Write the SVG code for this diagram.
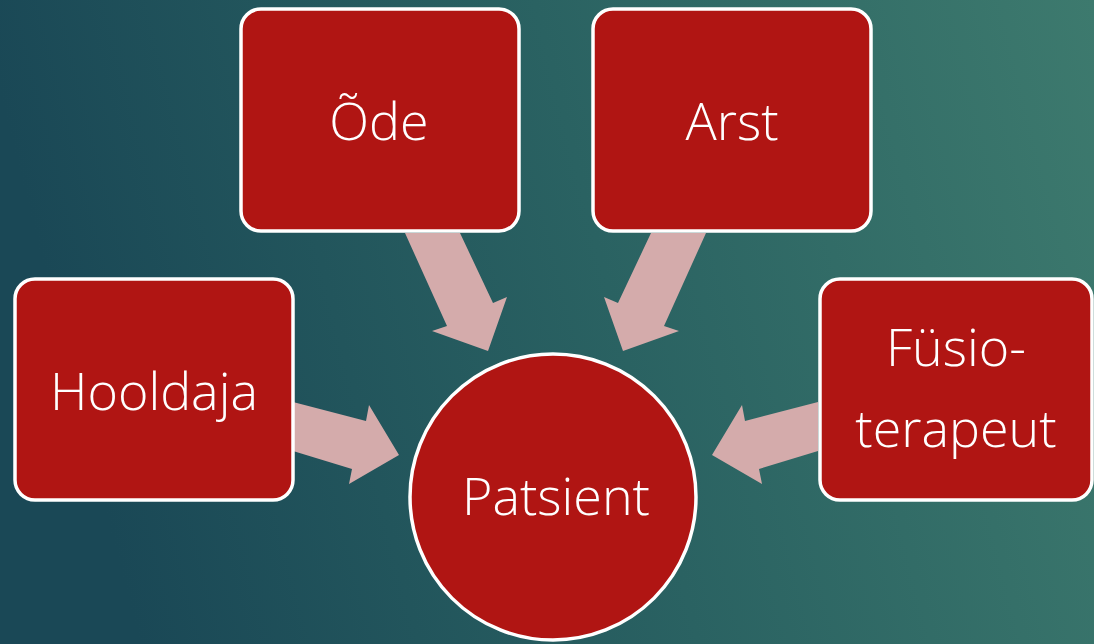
<svg xmlns="http://www.w3.org/2000/svg" width="1094" height="644" viewBox="0 0 1094 644">
<defs>
<linearGradient id="bg" x1="0" y1="0.15" x2="1" y2="0">
<stop offset="0" stop-color="#1a4856"/>
<stop offset="0.5" stop-color="#2a6262"/>
<stop offset="1" stop-color="#3d7a6e"/>
</linearGradient>
<style>
.box{fill:#b01513;stroke:#ffffff;stroke-width:3.5}
.arr{fill:#d4abab}
.t{fill:#ffffff;font-family:"Open Sans","DejaVu Sans",sans-serif;font-size:52px;font-weight:300;text-anchor:middle}
</style>
</defs>
<rect width="1094" height="644" fill="url(#bg)"/>
<g id="connectors">
<polygon class="arr" points="293,402 366,421 369,405 399,455 349,484 352,469 293,451"/>
<polygon class="arr" points="818,402 745,421 742,405 712,455 762,484 759,469 818,451"/>
<polygon class="arr" points="405,233 460,233 493,303 507,297 488,351 432,331 447,326"/>
<polygon class="arr" points="706,233 651,233 618,303 604,297 623,351 679,331 664,326"/>
</g>
<g id="hooldaja">
<rect class="box" x="15" y="279" width="278" height="221" rx="20"/>
<text class="t" x="154" y="410">Hooldaja</text>
</g>
<g id="ode">
<rect class="box" x="241" y="9" width="278" height="222" rx="20"/>
<text class="t" x="379" y="140">Õde</text>
</g>
<g id="arst">
<rect class="box" x="593" y="9" width="278" height="222" rx="20"/>
<text class="t" x="732" y="140">Arst</text>
</g>
<g id="fusioterapeut">
<rect class="box" x="820" y="279" width="272" height="221" rx="20"/>
<text class="t" x="956" y="366">Füsio-</text>
<text class="t" x="956" y="447">terapeut</text>
</g>
<g id="patsient">
<circle class="box" cx="553" cy="497" r="143"/>
<text class="t" x="556" y="515">Patsient</text>
</g>
</svg>
